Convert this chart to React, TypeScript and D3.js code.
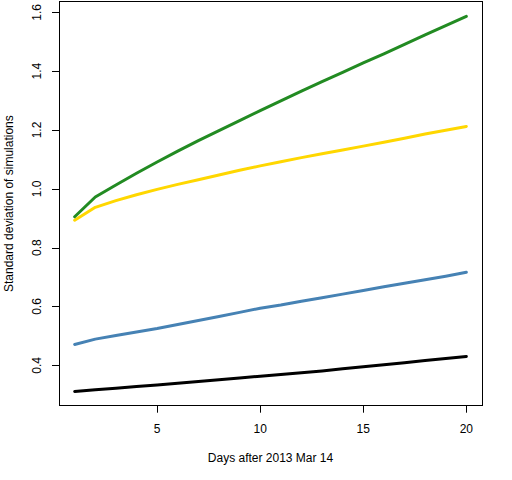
import * as React from 'react';
import * as d3 from 'd3';

const days = d3.range(1, 21);
const green = [0.905, 0.972, 1.013, 1.053, 1.091, 1.128, 1.164, 1.198, 1.232, 1.266, 1.299, 1.332, 1.364, 1.396, 1.428, 1.459, 1.491, 1.523, 1.555, 1.586];
const gold = [0.893, 0.937, 0.96, 0.98, 0.998, 1.015, 1.031, 1.047, 1.063, 1.078, 1.092, 1.106, 1.119, 1.132, 1.145, 1.158, 1.172, 1.186, 1.199, 1.212];
const blue = [0.471, 0.489, 0.501, 0.513, 0.525, 0.539, 0.552, 0.566, 0.58, 0.594, 0.605, 0.618, 0.63, 0.642, 0.654, 0.667, 0.679, 0.691, 0.703, 0.716];
const black = [0.311, 0.317, 0.322, 0.328, 0.333, 0.339, 0.345, 0.351, 0.357, 0.363, 0.369, 0.375, 0.381, 0.388, 0.395, 0.402, 0.409, 0.416, 0.423, 0.43];
const xTicks = [5, 10, 15, 20];
const yTicks = [0.4, 0.6, 0.8, 1.0, 1.2, 1.4, 1.6];

const series = [
  { values: black, color: '#000000' },
  { values: blue, color: '#4682B4' },
  { values: gold, color: '#FFD700' },
  { values: green, color: '#228B22' },
];

const W = 512;
const H = 480;
const left = 59;
const right = 482;
const top = 1.5;
const bottom = 405.7;

export default function App() {
  const ref = React.useRef<SVGSVGElement>(null);

  React.useEffect(() => {
    const svg = d3.select(ref.current);
    svg.selectAll('*').remove();

    const x = d3.scaleLinear().domain([0.24, 20.76]).range([left, right]);
    const y = d3.scaleLinear().domain([0.2627, 1.6367]).range([bottom, top]);
    const font = 'Liberation Sans, Arial, sans-serif';

    svg
      .append('rect')
      .attr('x', left)
      .attr('y', top)
      .attr('width', right - left)
      .attr('height', bottom - top)
      .attr('fill', 'none')
      .attr('stroke', '#000')
      .attr('stroke-width', 1)
      .attr('shape-rendering', 'crispEdges');

    const line = d3
      .line<number>()
      .x((_d, i) => x(days[i]))
      .y((d) => y(d));

    series.forEach((s) => {
      svg
        .append('path')
        .attr('d', line(s.values))
        .attr('fill', 'none')
        .attr('stroke', s.color)
        .attr('stroke-width', 3)
        .attr('stroke-linejoin', 'round')
        .attr('stroke-linecap', 'round');
    });

    // x axis
    const gx = svg.append('g');
    gx.selectAll('line')
      .data(xTicks)
      .enter()
      .append('line')
      .attr('x1', (d) => Math.round(x(d)) + 0.5)
      .attr('x2', (d) => Math.round(x(d)) + 0.5)
      .attr('y1', bottom)
      .attr('y2', bottom + 7)
      .attr('stroke', '#000');
    gx.selectAll('text')
      .data(xTicks)
      .enter()
      .append('text')
      .attr('x', (d) => x(d))
      .attr('y', 433)
      .attr('text-anchor', 'middle')
      .style('font-family', font)
      .style('font-size', '12px')
      .text((d) => String(d));

    // y axis
    const gy = svg.append('g');
    gy.selectAll('line')
      .data(yTicks)
      .enter()
      .append('line')
      .attr('x1', left - 7)
      .attr('x2', left)
      .attr('y1', (d) => Math.round(y(d)) + 0.5)
      .attr('y2', (d) => Math.round(y(d)) + 0.5)
      .attr('stroke', '#000');
    gy.selectAll('text')
      .data(yTicks)
      .enter()
      .append('text')
      .attr('transform', (d) => `translate(41,${y(d)}) rotate(-90)`)
      .attr('text-anchor', 'middle')
      .style('font-family', font)
      .style('font-size', '12px')
      .text((d) => d.toFixed(1));

    svg
      .append('text')
      .attr('x', (left + right) / 2)
      .attr('y', 462)
      .attr('text-anchor', 'middle')
      .style('font-family', font)
      .style('font-size', '12px')
      .text('Days after 2013 Mar 14');

    svg
      .append('text')
      .attr('transform', `translate(13,${(top + bottom) / 2}) rotate(-90)`)
      .attr('text-anchor', 'middle')
      .style('font-family', font)
      .style('font-size', '12px')
      .text('Standard deviation of simulations');
  }, []);

  return (
    <svg
      ref={ref}
      width={W}
      height={H}
      style={{ position: 'absolute', left: 0, top: 0, background: '#fff' }}
    />
  );
}
